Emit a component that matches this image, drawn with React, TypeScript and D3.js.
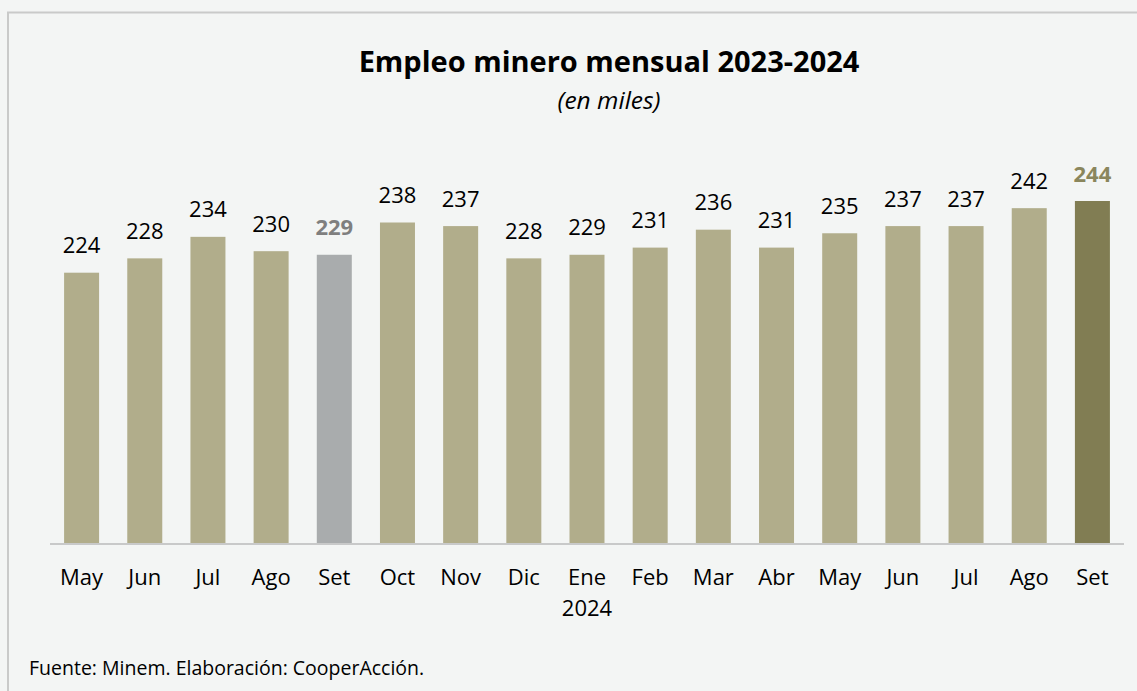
import React, { useEffect, useRef } from 'react';
import * as d3 from 'd3';

// empleo minero mensual, miles de trabajadores
const months = ['May', 'Jun', 'Jul', 'Ago', 'Set', 'Oct', 'Nov', 'Dic', 'Ene', 'Feb', 'Mar', 'Abr', 'May', 'Jun', 'Jul', 'Ago', 'Set'];
const yearLabels = ['', '', '', '', '', '', '', '', '2024', '', '', '', '', '', '', '', ''];
const employment = [224, 228, 234, 230, 229, 238, 237, 228, 229, 231, 236, 231, 235, 237, 237, 242, 244];
// 0 = normal, 1 = set 2023 (comparacion), 2 = set 2024 (ultimo)
const highlight = [0, 0, 0, 0, 1, 0, 0, 0, 0, 0, 0, 0, 0, 0, 0, 0, 2];

const barColors = ['#b1ad8b', '#a9acad', '#817d53'];
const labelColors = ['#000000', '#7f7f7f', '#8a865c'];
const font = "'Open Sans', 'Noto Sans', sans-serif";

function App() {
  const svgRef = useRef<SVGSVGElement>(null);

  useEffect(() => {
    document.body.style.margin = '0';
    const width = 1137;
    const height = 691;
    const baseY = 543;

    const svg = d3.select(svgRef.current).attr('width', width).attr('height', height);
    svg.selectAll('*').remove();

    svg.append('rect').attr('width', width).attr('height', height).attr('fill', '#f3f5f4');
    svg
      .append('rect')
      .attr('x', 8)
      .attr('y', 12.5)
      .attr('width', width + 20)
      .attr('height', height + 20)
      .attr('fill', 'none')
      .attr('stroke', '#c9cac9')
      .attr('stroke-width', 2);

    const idx = employment.map((_, i) => i);
    const x = d3
      .scaleBand<number>()
      .domain(idx)
      .range([50, 1124])
      .paddingInner(0.446)
      .paddingOuter(0.223);
    const y = d3.scaleLinear().domain([148.6, 244]).range([baseY, 201]);

    svg
      .append('g')
      .selectAll('rect')
      .data(idx)
      .join('rect')
      .attr('x', (i) => x(i)!)
      .attr('width', x.bandwidth())
      .attr('y', (i) => y(employment[i]))
      .attr('height', (i) => baseY - y(employment[i]))
      .attr('fill', (i) => barColors[highlight[i]]);

    // eje horizontal
    svg
      .append('line')
      .attr('x1', 50)
      .attr('x2', 1124)
      .attr('y1', baseY + 1)
      .attr('y2', baseY + 1)
      .attr('stroke', '#c8c9c9')
      .attr('stroke-width', 2);

    // etiquetas de datos
    svg
      .append('g')
      .selectAll('text')
      .data(idx)
      .join('text')
      .attr('x', (i) => x(i)! + x.bandwidth() / 2)
      .attr('y', (i) => y(employment[i]) - 19.5)
      .attr('text-anchor', 'middle')
      .style('font-family', font)
      .style('font-size', '22px')
      .style('font-weight', (i) => (highlight[i] ? 700 : 400))
      .attr('fill', (i) => labelColors[highlight[i]])
      .text((i) => employment[i]);

    const axisG = svg.append('g').style('font-family', font).style('font-size', '22px');
    axisG
      .selectAll('text.month')
      .data(idx)
      .join('text')
      .attr('class', 'month')
      .attr('x', (i) => x(i)! + x.bandwidth() / 2)
      .attr('y', 585)
      .attr('text-anchor', 'middle')
      .attr('fill', '#000')
      .text((i) => months[i]);
    axisG
      .selectAll('text.year')
      .data(idx.filter((i) => yearLabels[i]))
      .join('text')
      .attr('class', 'year')
      .attr('x', (i) => x(i)! + x.bandwidth() / 2)
      .attr('y', 616)
      .attr('text-anchor', 'middle')
      .attr('fill', '#000')
      .text((i) => yearLabels[i]);

    svg
      .append('text')
      .attr('x', 609)
      .attr('y', 72)
      .attr('text-anchor', 'middle')
      .style('font-family', font)
      .style('font-size', '29px')
      .style('font-weight', 700)
      .attr('fill', '#000')
      .text('Empleo minero mensual 2023-2024');

    svg
      .append('text')
      .attr('x', 609)
      .attr('y', 109)
      .attr('text-anchor', 'middle')
      .style('font-family', font)
      .style('font-size', '24.5px')
      .style('font-style', 'italic')
      .attr('fill', '#000')
      .text('(en miles)');

    svg
      .append('text')
      .attr('x', 29)
      .attr('y', 675)
      .style('font-family', font)
      .style('font-size', '19.5px')
      .attr('fill', '#000')
      .text('Fuente: Minem. Elaboración: CooperAcción.');
  }, []);

  return <svg ref={svgRef} style={{ display: 'block' }}></svg>;
}

export default App;
